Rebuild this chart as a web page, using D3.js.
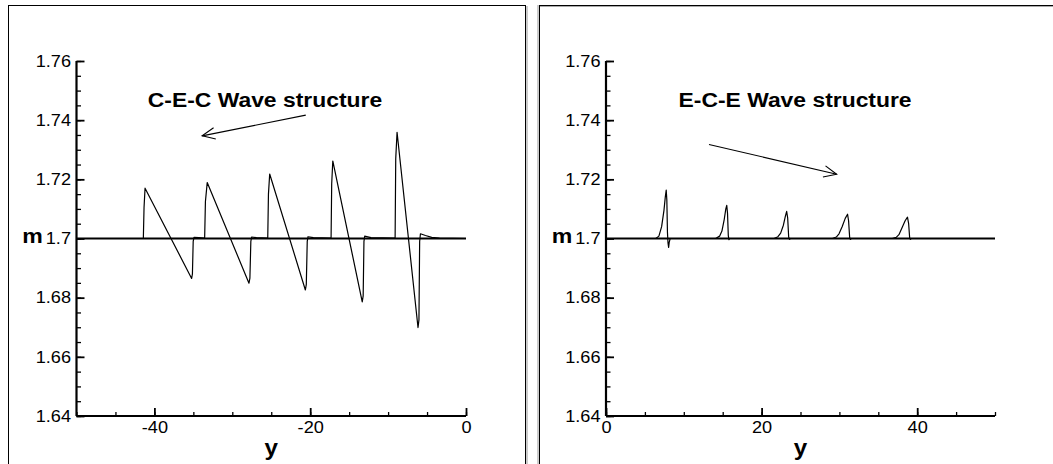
<!DOCTYPE html>
<html>
<head>
<meta charset="utf-8">
<script src="https://cdn.jsdelivr.net/npm/d3@7"></script>
<style>
  html, body { margin: 0; padding: 0; background: #fff; }
  svg { display: block; }
  text { font-family: "Liberation Sans", Arial, sans-serif; fill: #000; }
</style>
</head>
<body>
<svg id="chart" width="1053" height="464"></svg>
<script>
// ---- data -------------------------------------------------------------
// Ambient level of m drawn across each panel
const ambientM = 1.7;

// C-E-C wave train (y < 0)
const cecY = [-50, -41.42, -41.33, -41.2, -35.22, -35.12, -35.02, -34.92, -34.3, -33.55,
  -33.45, -33.22, -27.86, -27.74, -27.62, -27.52, -26.9, -25.45,
  -25.36, -25.2, -20.62, -20.5, -20.38, -20.28, -19.6, -17.32,
  -17.24, -17.1, -13.32, -13.2, -13.1, -13.0, -12.2, -9.1,
  -9.02, -8.85, -6.16, -6.04, -5.95, -5.85, -5.2, -4.4, -3.4, 0];
const cecM = [1.7, 1.7, 1.7105, 1.7170, 1.6865, 1.6880, 1.6990, 1.7004, 1.7003, 1.7001,
  1.7125, 1.7189, 1.6849, 1.6866, 1.6990, 1.7005, 1.7003, 1.7001,
  1.7150, 1.7218, 1.6826, 1.6845, 1.6990, 1.7006, 1.7003, 1.7001,
  1.7185, 1.7262, 1.6786, 1.6806, 1.6990, 1.7008, 1.7003, 1.7001,
  1.7270, 1.7359, 1.6699, 1.6725, 1.6990, 1.7016, 1.7010, 1.7004, 1.7001, 1.7];

// E-C-E wave train (y > 0)
const eceY = [0, 6.4, 6.8, 7.15, 7.45, 7.62, 7.74, 7.82, 7.9, 7.97, 8.05, 8.13, 8.25,
  14.1, 14.6, 14.9, 15.2, 15.4, 15.52, 15.62, 15.72, 15.8, 15.9,
  21.6, 22.1, 22.45, 22.8, 23.05, 23.22, 23.35, 23.48, 23.58, 23.7,
  29.1, 29.6, 29.95, 30.35, 30.75, 31.05, 31.18, 31.32, 31.42, 31.52,
  36.8, 37.3, 37.65, 38.05, 38.45, 38.75, 38.9, 39.03, 39.12, 39.22, 50];
const eceM = [1.7, 1.7, 1.7008, 1.7040, 1.7095, 1.7140, 1.7164, 1.7130, 1.7020, 1.6985, 1.6970, 1.6988, 1.7,
  1.7, 1.7008, 1.7025, 1.7065, 1.7100, 1.7112, 1.7085, 1.7010, 1.6996, 1.7,
  1.7, 1.7006, 1.7018, 1.7045, 1.7075, 1.7092, 1.7070, 1.7005, 1.6997, 1.7,
  1.7, 1.7005, 1.7016, 1.7040, 1.7068, 1.7082, 1.7060, 1.7003, 1.6997, 1.7,
  1.7, 1.7004, 1.7013, 1.7036, 1.7060, 1.7072, 1.7050, 1.7003, 1.6997, 1.7, 1.7];

// axis ticks and labels
const mTicks = [1.64, 1.66, 1.68, 1.7, 1.72, 1.74, 1.76];
const mTickLabels = ["1.64", "1.66", "1.68", "1.7", "1.72", "1.74", "1.76"];
const cecYTicks = [-40, -20, 0];
const cecYTickLabels = ["-40", "-20", "0"];
const eceYTicks = [0, 20, 40];
const eceYTickLabels = ["0", "20", "40"];

// annotation text and arrow ends in data units
const cecTitle = "C-E-C Wave structure";
const cecTitlePos = [-40.85, 1.7444];
const cecArrow = [[-20.57, 1.7417], [-33.87, 1.7347]];
const eceTitle = "E-C-E Wave structure";
const eceTitlePos = [9.32, 1.7444];
const eceArrow = [[13.24, 1.7318], [29.65, 1.7217]];

// ---- drawing ----------------------------------------------------------
const svg = d3.select("#chart");
const SX = 1.1; // horizontal stretch of the lettering

// panel frames (black edge with a grey shadow line)
svg.append("rect").attr("x", 8.5).attr("y", 5.5).attr("width", 517).attr("height", 470)
  .attr("fill", "none").attr("stroke", "#000").attr("stroke-width", 1);
svg.append("line").attr("x1", 527).attr("x2", 527).attr("y1", 6).attr("y2", 464)
  .attr("stroke", "#999").attr("stroke-width", 1);
svg.append("rect").attr("x", 539.5).attr("y", 5.5).attr("width", 530).attr("height", 470)
  .attr("fill", "none").attr("stroke", "#000").attr("stroke-width", 1);
svg.append("line").attr("x1", 538).attr("x2", 538).attr("y1", 5).attr("y2", 464)
  .attr("stroke", "#999").attr("stroke-width", 1);
svg.append("line").attr("x1", 540).attr("x2", 1053).attr("y1", 6.5).attr("y2", 6.5)
  .attr("stroke", "#aaa").attr("stroke-width", 1);

function stretchText(sel, size, weight) {
  sel.attr("font-size", size).attr("font-weight", weight || "normal");
}

function panel(opt) {
  const x = d3.scaleLinear().domain(opt.domain).range([opt.left, opt.right]);
  const y = d3.scaleLinear().domain([1.64, 1.76]).range([416, 61]);
  const g = svg.append("g");

  // ambient level line
  g.append("path")
    .datum(opt.domain)
    .attr("d", d3.line().x(d => x(d)).y(() => y(ambientM)))
    .attr("fill", "none").attr("stroke", "#000").attr("stroke-width", 2.2);

  // wave profile
  const pts = opt.xs.map((v, i) => [v, opt.ms[i]]);
  g.append("path")
    .datum(pts)
    .attr("d", d3.line().x(d => x(d[0])).y(d => y(d[1])))
    .attr("fill", "none").attr("stroke", "#000").attr("stroke-width", 1.2)
    .attr("stroke-linejoin", "round");

  // minor ticks
  const minorX = d3.range(opt.domain[0], opt.domain[1] + 0.001, 5);
  const minorY = d3.range(1.64, 1.7601, 0.005);
  g.append("g").attr("transform", `translate(0,416)`)
    .call(d3.axisBottom(x).tickValues(minorX).tickSize(-4).tickFormat(""))
    .call(a => a.select(".domain").remove())
    .selectAll("line").attr("stroke-width", 1.3);
  g.append("g").attr("transform", `translate(${opt.left},0)`)
    .call(d3.axisLeft(y).tickValues(minorY).tickSize(-4.5).tickFormat(""))
    .call(a => a.select(".domain").remove())
    .selectAll("line").attr("stroke-width", 1.3);

  // major x axis
  const xa = g.append("g").attr("transform", `translate(0,416)`)
    .call(d3.axisBottom(x).tickValues(opt.xTicks).tickSize(-8).tickPadding(5)
      .tickFormat((d, i) => opt.xLabels[i]));
  xa.select(".domain").attr("d", `M${opt.left},0H${opt.right}`).attr("stroke-width", 2.2);
  xa.selectAll("line").attr("stroke-width", 1.8);
  xa.selectAll("text").attr("font-size", 16.5).attr("font-family", null)
    .attr("transform", function () {
      const yv = +d3.select(this).attr("y");
      d3.select(this).attr("y", 0);
      return `translate(0,${yv}) scale(${SX},1)`;
    });

  // major m axis
  const ya = g.append("g").attr("transform", `translate(${opt.left},0)`)
    .call(d3.axisLeft(y).tickValues(mTicks).tickSize(-8).tickPadding(5.5)
      .tickFormat((d, i) => mTickLabels[i]));
  ya.select(".domain").attr("d", `M0,${y(1.76)}V${y(1.64)}`).attr("stroke-width", 2.2);
  ya.selectAll("line").attr("stroke-width", 1.8);
  ya.selectAll("text").attr("font-size", 16.5).attr("font-family", null)
    .attr("transform", function () {
      const xv = +d3.select(this).attr("x");
      d3.select(this).attr("x", 0);
      return `translate(${xv},0) scale(${SX},1)`;
    });
  svg.selectAll(".tick text").attr("fill", "#000");

  // axis titles
  g.append("text")
    .attr("transform", `translate(${opt.left - 44},${y(ambientM) + 4}) scale(${SX},1)`)
    .attr("text-anchor", "middle").attr("font-size", 21).attr("font-weight", "bold")
    .text("m");
  g.append("text")
    .attr("transform", `translate(${(opt.left + opt.right) / 2},455) scale(${SX},1)`)
    .attr("text-anchor", "middle").attr("font-size", 22).attr("font-weight", "bold")
    .text("y");

  // annotation
  g.append("text")
    .attr("transform", `translate(${x(opt.titlePos[0])},${y(opt.titlePos[1])}) scale(1.09,1)`)
    .attr("font-size", 21).attr("font-weight", "bold")
    .text(opt.title);

  const [p0, p1] = opt.arrow.map(p => [x(p[0]), y(p[1])]);
  g.append("line")
    .attr("x1", p0[0]).attr("y1", p0[1]).attr("x2", p1[0]).attr("y2", p1[1])
    .attr("stroke", "#000").attr("stroke-width", 1.1);
  const ang = Math.atan2(p0[1] - p1[1], p0[0] - p1[0]);
  const len = 14, spread = 0.42;
  const head = [
    [p1[0] + len * Math.cos(ang + spread), p1[1] + len * Math.sin(ang + spread)],
    p1,
    [p1[0] + len * Math.cos(ang - spread), p1[1] + len * Math.sin(ang - spread)]
  ];
  g.append("path").attr("d", d3.line()(head))
    .attr("fill", "none").attr("stroke", "#000").attr("stroke-width", 1.1);
}

panel({
  domain: [-50, 0], left: 76.5, right: 466,
  xs: cecY, ms: cecM,
  xTicks: cecYTicks, xLabels: cecYTickLabels,
  title: cecTitle, titlePos: cecTitlePos, arrow: cecArrow
});
panel({
  domain: [0, 50], left: 606, right: 995,
  xs: eceY, ms: eceM,
  xTicks: eceYTicks, xLabels: eceYTickLabels,
  title: eceTitle, titlePos: eceTitlePos, arrow: eceArrow
});
</script>
</body>
</html>
